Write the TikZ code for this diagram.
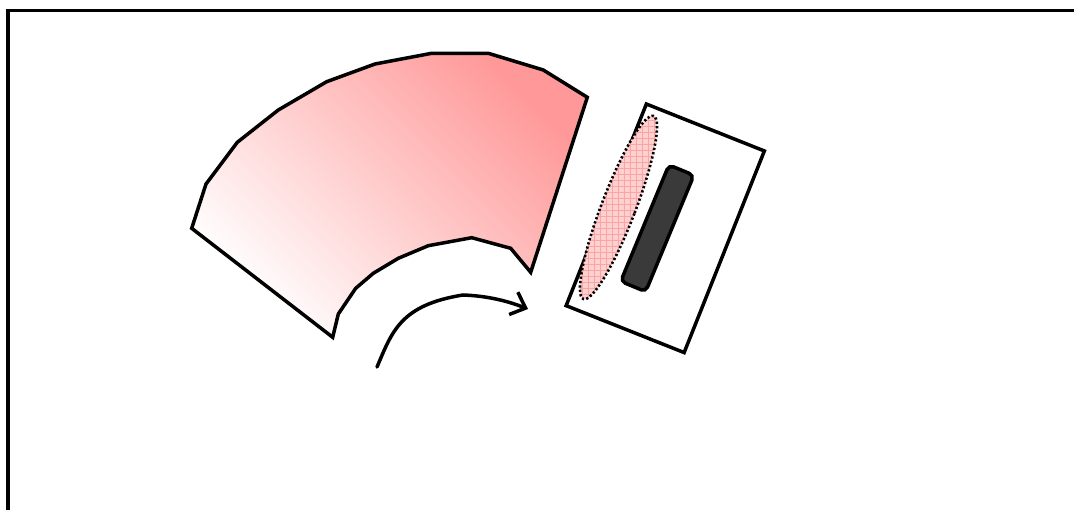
\documentclass[tikz,border=0pt]{standalone}
\usetikzlibrary{arrows.meta,patterns.meta}
\definecolor{fanpink}{RGB}{255,152,152}
\definecolor{blobpink}{RGB}{255,208,208}
\definecolor{gridpink}{RGB}{250,165,165}
\definecolor{darkbar}{RGB}{58,58,58}
\begin{document}
\begin{tikzpicture}[x=1pt,y=-1pt,
  thick line/.style={line width=3.5pt,line join=miter},
  fan/.style={thick line,top color=fanpink,bottom color=white,shading angle=-45},
  holder/.style={draw,thick line,fill=white,inner sep=0pt,minimum width=127pt,minimum height=217pt,rotate=-21.7},
  bar/.style={draw,line width=3.5pt,fill=darkbar,rounded corners=5pt,inner sep=0pt,minimum width=27pt,minimum height=126pt,rotate=-22.5},
  dotline/.style={line width=2.6pt,dash pattern=on 2.2pt off 2.2pt},
  arrowline/.style={line width=3.5pt,line cap=round,-{Straight Barb[length=13pt,width=24pt,line width=3.5pt]}}
]
\useasboundingbox (0,0) rectangle (1074,510);
% frame
\draw[thick line] (8,510) |- (1074,10.5);
% fan shape
\draw[fan] (191.7,228.3) -- (206,184) -- (237.3,142.3) -- (278.3,110) -- (326.7,81.7)
  -- (375,64) -- (431.7,53.3) -- (488.3,53.3) -- (543.3,70) -- (587.3,97.3)
  -- (530.7,272.3) -- (510.7,248.3) -- (471.7,237.7) -- (428.3,245.7) -- (398.3,258.3)
  -- (373.3,273.3) -- (355.7,288.3) -- (338.3,314) -- (332.7,337.3) -- cycle;
% holder rectangle
\node[holder] (box) at (665.25,228.3) {};
% pink blob
\begin{scope}[shift={(618.5,207.5)},rotate=-21]
  \fill[blobpink] (0,0) ellipse [x radius=17, y radius=98];
  \fill[pattern={Lines[angle=0,distance=6pt,line width=0.5pt]},pattern color=gridpink] (0,0) ellipse [x radius=17, y radius=98];
  \fill[pattern={Lines[angle=90,distance=6pt,line width=0.5pt]},pattern color=gridpink] (0,0) ellipse [x radius=17, y radius=98];
  \draw[dotline] (0,0) ellipse [x radius=17, y radius=98];
\end{scope}
% dark bar
\node[bar] (darkbar) at (657.3,228.3) {};
% arrow
\coordinate (arrS) at (377,367);
\coordinate (arrM) at (463,295);
\coordinate (arrE) at (528,309);
\draw[arrowline] (arrS) .. controls (392,332) and (400,305) .. (arrM)
  .. controls (490,296) and (510,302) .. (arrE);
\end{tikzpicture}
\end{document}
